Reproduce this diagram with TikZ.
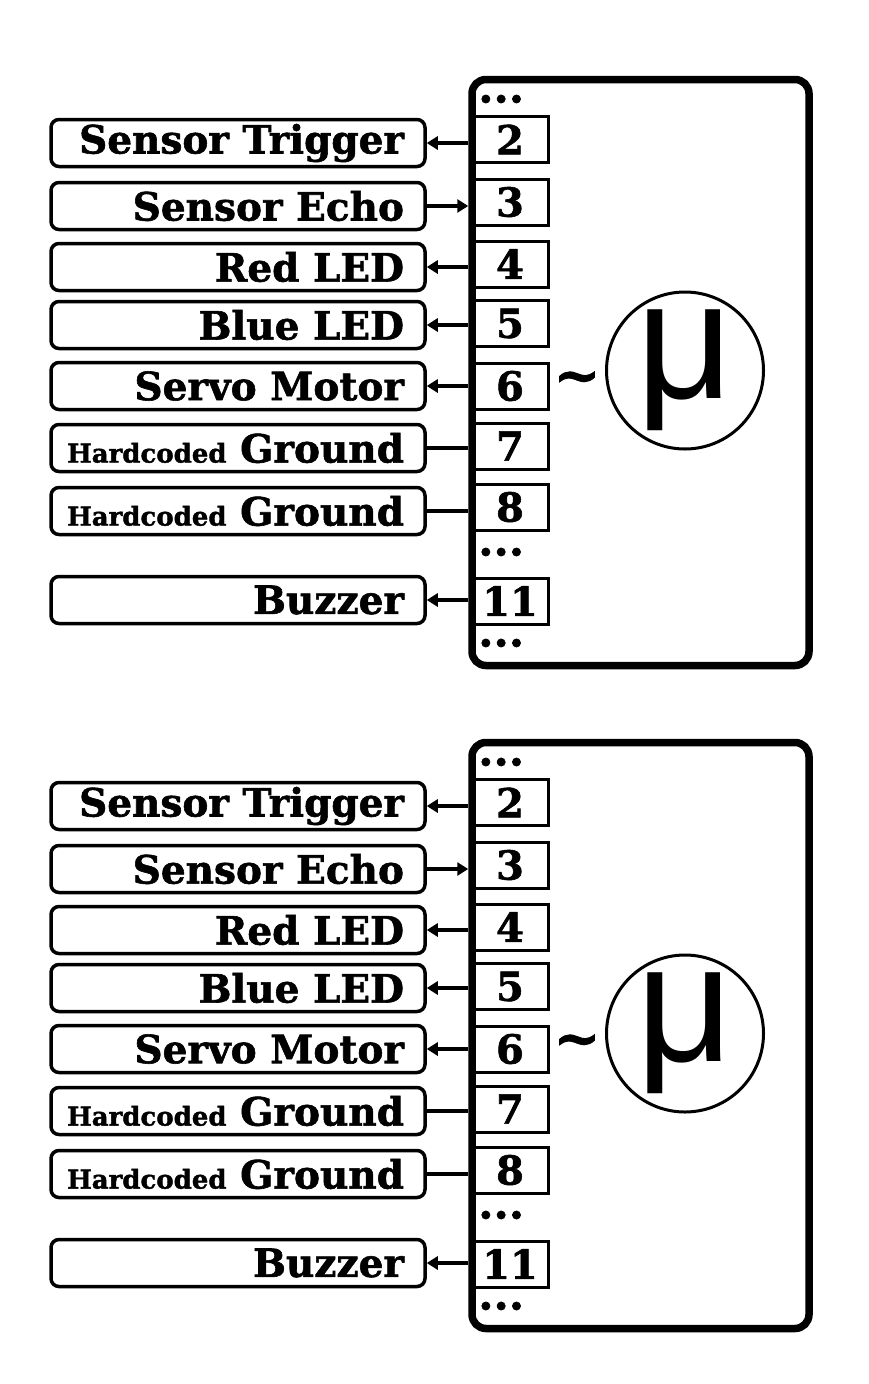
\documentclass[tikz,border=0pt]{standalone}
\usepackage{fontspec}
\setmainfont{DejaVu Serif}[BoldFeatures={FakeBold=1.5}]
\newfontfamily\mufont{Liberation Sans}
\usetikzlibrary{arrows.meta}
\tikzset{
  mcu/.style={draw, line width=7.5pt, rounded corners=14pt, minimum width=337pt, minimum height=586pt, inner sep=0pt},
  pinbox/.style={draw, line width=3pt, minimum width=76pt, minimum height=46pt, inner sep=0pt, font=\fontsize{40}{40}\selectfont\bfseries},
  labbox/.style={draw, line width=3.5pt, rounded corners=8pt, minimum width=374pt, minimum height=47pt, inner sep=0pt, font=\fontsize{39}{40}\selectfont\bfseries},
  wire/.style={line width=4pt},
  wout/.style={{Triangle[length=11pt,width=13pt]}-},
  win/.style={-{Triangle[length=11pt,width=13pt]}},
  wnone/.style={},
  dotsnode/.style={font=\fontsize{44}{44}\selectfont\bfseries, inner sep=0pt, anchor=west},
  mucircle/.style={draw, circle, line width=3pt, minimum size=157pt, inner sep=0pt, font=\fontsize{168}{168}\mufont},
  tildenode/.style={font=\fontsize{56}{56}\selectfont\bfseries, inner sep=0pt},
}
\begin{document}
\begin{tikzpicture}[x=1pt, y=-1pt]
\useasboundingbox (0,0) rectangle (868,1384);
\foreach \d/\o in {a/0, b/663} {
  \begin{scope}[yshift=-\o pt]
    \node[mcu] (\d mcu) at (640.5,372.5) {};
    \node[dotsnode] (\d dtop) at (478,99) {...};
    \node[dotsnode] (\d dmid) at (478,552) {...};
    \node[dotsnode] (\d dbot) at (478,643) {...};
    \node[mucircle] (\d mu) at (685,370.5) {μ};
    \node[tildenode] (\d tilde) at (577,383) {\~{}};
    \foreach \n/\ly/\py/\txt/\dir in {
      2/143/139.5/{Sensor Trigger}/wout,
      3/206/202/{Sensor Echo}/win,
      4/267/264/{Red LED}/wout,
      5/325/323.5/{Blue LED}/wout,
      6/386/386/{Servo Motor}/wout,
      7/448/446/{{\fontsize{26}{26}\selectfont Hardcoded} Ground}/wnone,
      8/511/507/{{\fontsize{26}{26}\selectfont Hardcoded} Ground}/wnone,
      11/600/601/{Buzzer}/wout} {
      \node[pinbox] (\d p\n) at (510,\py) {\n};
      \node[labbox] (\d l\n) at (238,\ly) {\makebox[332pt][r]{\txt}};
      \draw[wire, \dir] (\d l\n.east) -- (\d l\n.east -| \d mcu.west);
    }
  \end{scope}
}
\end{tikzpicture}
\end{document}
